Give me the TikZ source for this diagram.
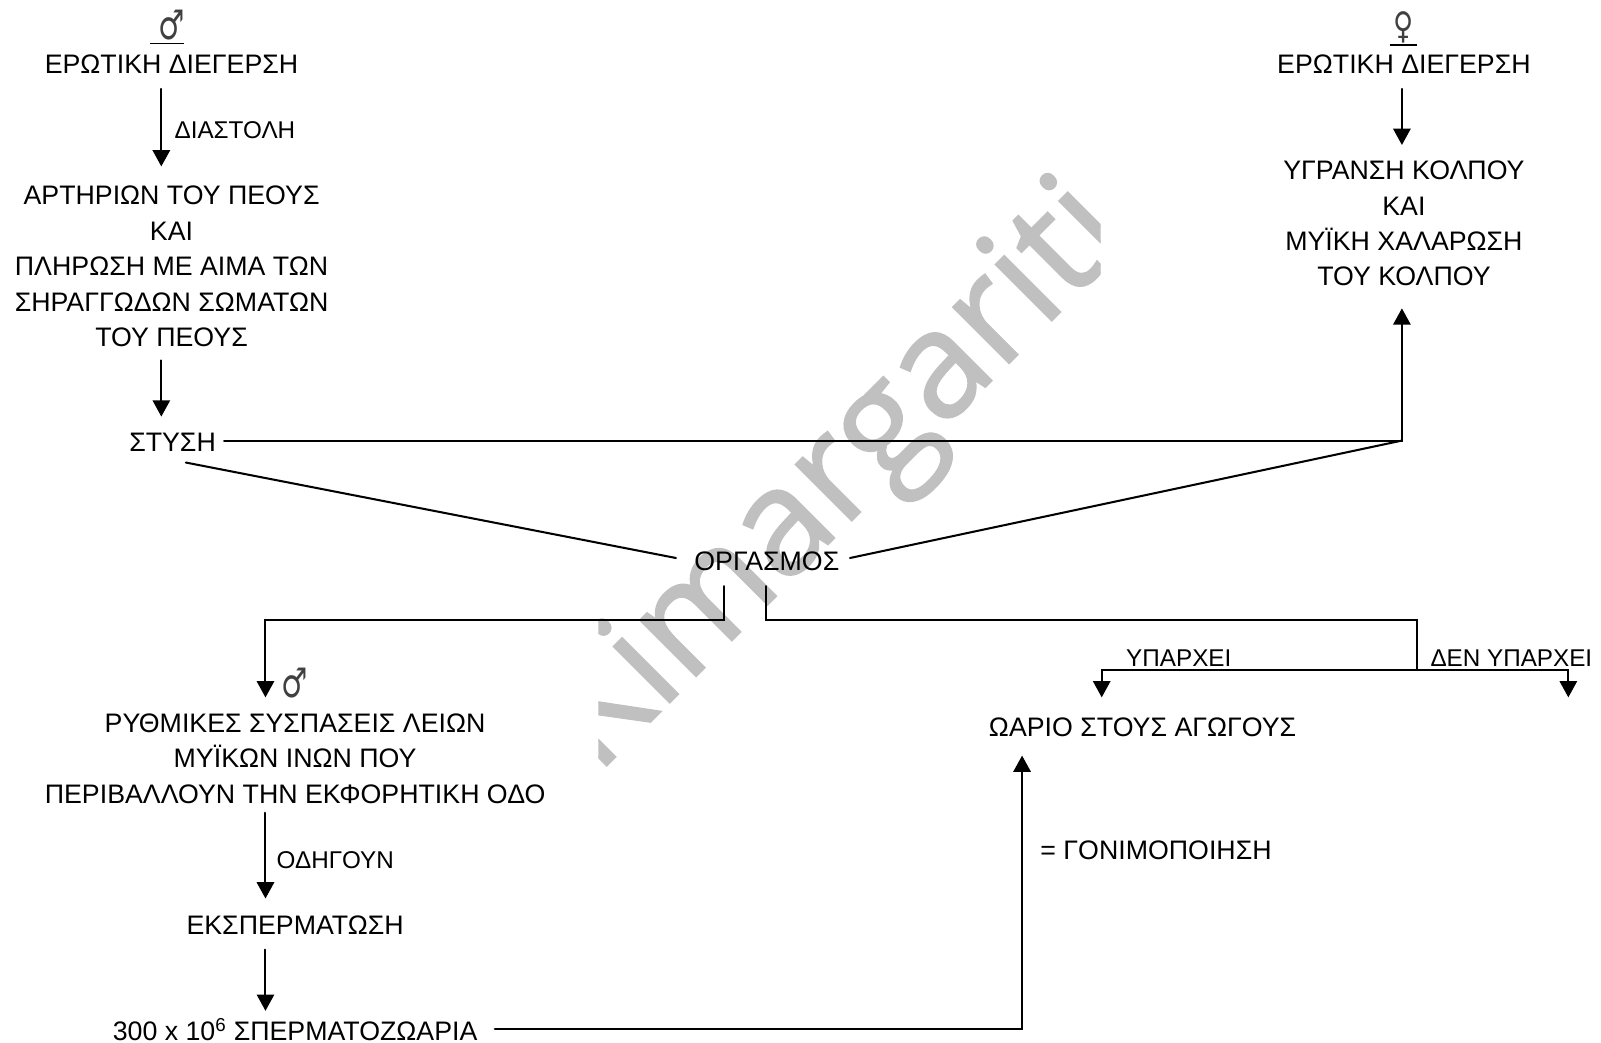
\documentclass[tikz,border=0pt]{standalone}
\usepackage{fontspec}
\setmainfont{Liberation Sans}
\newfontfamily\symfont{DejaVu Sans}
\newfontfamily\wmfont[FakeBold=1.3]{Open Sans}
\usetikzlibrary{arrows.meta}
\definecolor{wm}{HTML}{C0C0C0}
\tikzset{
  txt/.style={inner sep=0pt,outer sep=0pt,minimum height=36pt,align=center,font=\fontsize{26.2}{34.7}\selectfont},
  lab/.style={inner sep=0pt,outer sep=0pt,anchor=west,font=\fontsize{23.75}{30}\selectfont},
  msymb/.style={inner sep=0pt,outer sep=0pt,xscale=0.72,transform shape,text=black!75,font=\fontsize{40}{40}\symfont},
  fsymb/.style={inner sep=0pt,outer sep=0pt,xscale=0.75,transform shape,text=black!75,font=\fontsize{36}{36}\symfont},
  conn/.style={line width=2pt,line cap=round,line join=miter},
  arr/.style={conn,-{Triangle[width=17pt,length=16pt]}},
  rule/.style={line width=1.5pt}
}
\begin{document}
\begin{tikzpicture}[x=1pt,y=-1pt]
\useasboundingbox (0,0) rectangle (1568,1021.5);
\begin{scope}
\clip (586,0) rectangle (1078,770);
\node[inner sep=0pt,anchor=base west,rotate=45,text=wm,font=\fontsize{145}{145}\wmfont] (mark) at (584,760) {Kimargariti};
\end{scope}
\node[msymb] (msym) at (168.6,25) {♂};
\coordinate (mu1) at (147,42.5); \coordinate (mu2) at (180,42.5);
\draw[rule] (mu1) -- (mu2);
\node[fsymb] (fsym) at (1375,27) {♀};
\coordinate (fu1) at (1361,44); \coordinate (fu2) at (1388,44);
\draw[rule] (fu1) -- (fu2);
\node[txt] (em) at (168,63) {ΕΡΩΤΙΚΗ ΔΙΕΓΕΡΣΗ};
\node[txt] (ef) at (1375,63) {ΕΡΩΤΙΚΗ ΔΙΕΓΕΡΣΗ};
\node[lab] (dia) at (171,127) {ΔΙΑΣΤΟΛΗ};
\node[txt,minimum height=180pt] (art) at (168,261) {ΑΡΤΗΡΙΩΝ ΤΟΥ ΠΕΟΥΣ\\ΚΑΙ\\ΠΛΗΡΩΣΗ ΜΕ ΑΙΜΑ ΤΩΝ\\ΣΗΡΑΓΓΩΔΩΝ ΣΩΜΑΤΩΝ\\ΤΟΥ ΠΕΟΥΣ};
\node[txt,minimum height=150pt] (yg) at (1375,219) {ΥΓΡΑΝΣΗ ΚΟΛΠΟΥ\\ΚΑΙ\\ΜΥΪΚΗ ΧΑΛΑΡΩΣΗ\\ΤΟΥ ΚΟΛΠΟΥ};
\node[txt] (st) at (169,433) {ΣΤΥΣΗ};
\node[txt] (org) at (751,550) {ΟΡΓΑΣΜΟΣ};
\node[msymb] (msym2) at (288.5,669) {♂};
\node[txt,minimum height=100pt] (ry) at (289,743) {ΡΥΘΜΙΚΕΣ ΣΥΣΠΑΣΕΙΣ ΛΕΙΩΝ\\ΜΥΪΚΩΝ ΙΝΩΝ ΠΟΥ\\ΠΕΡΙΒΑΛΛΟΥΝ ΤΗΝ ΕΚΦΟΡΗΤΙΚΗ ΟΔΟ};
\node[lab] (od) at (271,842) {ΟΔΗΓΟΥΝ};
\node[txt] (ek) at (289,906) {ΕΚΣΠΕΡΜΑΤΩΣΗ};
\node[txt] (sp) at (289,1008) {300 x 10\textsuperscript{6} ΣΠΕΡΜΑΤΟΖΩΑΡΙΑ};
\node[txt] (oa) at (1119,712) {ΩΑΡΙΟ ΣΤΟΥΣ ΑΓΩΓΟΥΣ};
\node[txt,anchor=west] (gon) at (1019,833) {= ΓΟΝΙΜΟΠΟΙΗΣΗ};
\node[lab] (yp) at (1103,644.5) {ΥΠΑΡΧΕΙ};
\node[lab] (dy) at (1401,644.5) {ΔΕΝ ΥΠΑΡΧΕΙ};
\coordinate (jr) at (1373,431.5);
\coordinate (bl1) at (709,607); \coordinate (bl2) at (260,607);
\coordinate (br1) at (750,607);
\coordinate (jt) at (1388,607); \coordinate (jb) at (1388,656);
\coordinate (jl) at (1079,656); \coordinate (jn) at (1536,656);
\coordinate (noend) at (1536,683);
\coordinate (sb) at (1001,1008);
\draw[arr] ([shift={(-10,6)}]em.south) -- ([shift={(-10,-8)}]art.north);
\draw[arr] ([shift={(-10,2)}]art.south) -- ([shift={(-11,-7)}]st.north);
\draw[arr] ([shift={(-2,6)}]ef.south) -- ([shift={(-2,-2)}]yg.north);
\draw[arr] ([shift={(8,-1.5)}]st.east) -- (jr) -- ([shift={(-2,8)}]yg.south);
\draw[conn] ([shift={(13,2)}]st.south) -- ([shift={(-18,-3.5)}]org.west);
\draw[conn] ([shift={(10.5,-3.5)}]org.east) -- (jr);
\draw[arr] ([shift={(-42,6)}]org.south) -- (bl1) -- (bl2) -- ([shift={(-29,-10)}]ry.north);
\draw[conn] ([shift={(-1,6)}]org.south) -- (br1) -- (jt) -- (jb);
\draw[arr] (jb) -- (jl) -- ([shift={(-40,-11)}]oa.north);
\draw[arr] (jb) -- (jn) -- (noend);
\draw[arr] ([shift={(-29,3)}]ry.south) -- ([shift={(-29,-8)}]ek.north);
\draw[arr] ([shift={(-29,6)}]ek.south) -- ([shift={(-29,0)}]sp.north);
\draw[arr] ([shift={(17,0)}]sp.east) -- (sb) -- ([shift={(-118,10)}]oa.south);
\end{tikzpicture}
\end{document}
